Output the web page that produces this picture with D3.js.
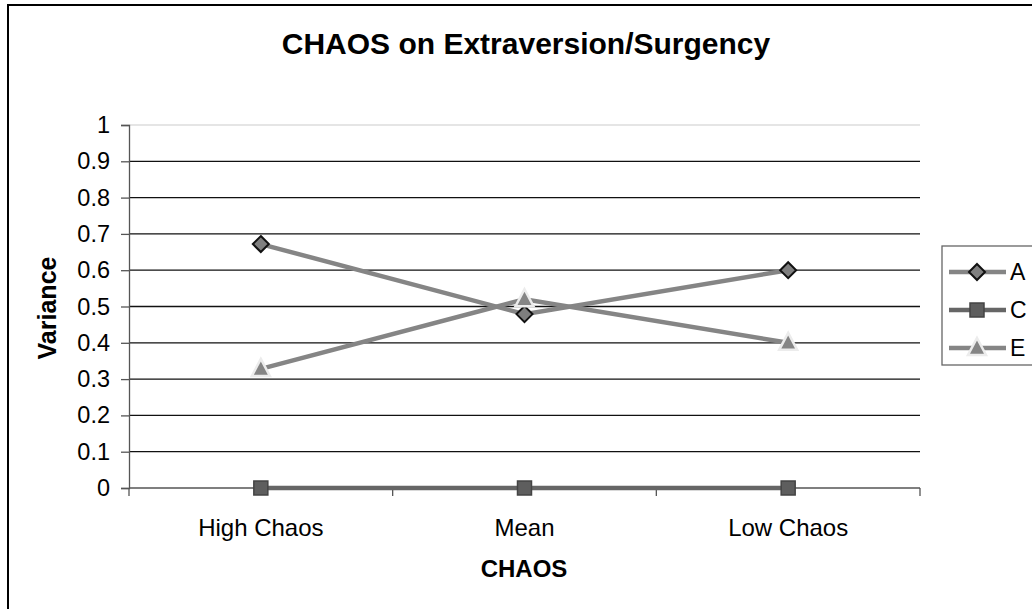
<!DOCTYPE html>
<html>
<head>
<meta charset="utf-8">
<script src="https://cdn.jsdelivr.net/npm/d3@7"></script>
<style>
  html, body { margin: 0; padding: 0; background: #fff; }
  svg { display: block; font-family: "Liberation Sans", Arial, sans-serif; }
</style>
</head>
<body>
<svg id="chart" width="1032" height="609"></svg>
<script>
'use strict';

var categories = ['High Chaos', 'Mean', 'Low Chaos'];
var seriesNames = ['A', 'C', 'E'];
var valuesA = [0.672, 0.479, 0.6];
var valuesC = [0, 0, 0];
var valuesE = [0.328, 0.52, 0.4];
var yTicks = [0, 0.1, 0.2, 0.3, 0.4, 0.5, 0.6, 0.7, 0.8, 0.9, 1];

var svg = d3.select('#chart');
var plot = {left: 129, right: 920, top: 125, bottom: 488};

// outer chart frame (right/bottom edges run off the picture)
svg.append('rect')
  .attr('x', 8).attr('y', 5)
  .attr('width', 1100).attr('height', 700)
  .attr('fill', '#fff')
  .attr('stroke', '#000')
  .attr('stroke-width', 2);

var x = d3.scaleBand().domain(categories).range([plot.left, plot.right]);
var y = d3.scaleLinear().domain([0, 1]).range([plot.bottom, plot.top]);

// gridlines
svg.append('g').selectAll('line')
  .data(yTicks.filter(function(d) { return d > 0; }))
  .join('line')
  .attr('x1', plot.left).attr('x2', plot.right)
  .attr('y1', function(d) { return y(d); })
  .attr('y2', function(d) { return y(d); })
  .attr('stroke', function(d) { return d === 1 ? '#ddd' : '#111'; })
  .attr('stroke-width', 1.3);

// y axis
var yAxis = svg.append('g')
  .attr('transform', 'translate(' + plot.left + ',0)')
  .call(d3.axisLeft(y).tickValues(yTicks).tickSize(8).tickPadding(11)
    .tickFormat(function(d) { return String(d); }));
yAxis.select('.domain').attr('stroke', '#555').attr('stroke-width', 1.3);
yAxis.selectAll('.tick line').attr('stroke', '#555').attr('stroke-width', 1.3);
yAxis.selectAll('text').attr('font-size', 23.5).attr('fill', '#000')
  .attr('font-family', '"Liberation Sans", Arial, sans-serif');

// x axis with ticks on the category boundaries
var xAxisG = svg.append('g');
xAxisG.append('line')
  .attr('x1', plot.left).attr('x2', plot.right)
  .attr('y1', y(0)).attr('y2', y(0))
  .attr('stroke', '#555').attr('stroke-width', 1.3);
var bounds = categories.map(function(c) { return x(c); }).concat([plot.right]);
xAxisG.selectAll('line.tk')
  .data(bounds)
  .join('line')
  .attr('class', 'tk')
  .attr('x1', function(d) { return d; }).attr('x2', function(d) { return d; })
  .attr('y1', y(0)).attr('y2', y(0) + 8)
  .attr('stroke', '#555').attr('stroke-width', 1.3);
xAxisG.selectAll('text')
  .data(categories)
  .join('text')
  .attr('x', function(d) { return x(d) + x.bandwidth() / 2; })
  .attr('y', 536)
  .attr('text-anchor', 'middle')
  .attr('font-size', 24)
  .text(function(d) { return d; });

// titles
svg.append('text')
  .attr('x', 526).attr('y', 54)
  .attr('text-anchor', 'middle')
  .attr('font-size', 30).attr('font-weight', 'bold')
  .text('CHAOS on Extraversion/Surgency');
svg.append('text')
  .attr('x', 524).attr('y', 577)
  .attr('text-anchor', 'middle')
  .attr('font-size', 24).attr('font-weight', 'bold')
  .text('CHAOS');
svg.append('text')
  .attr('transform', 'translate(56,308) rotate(-90)')
  .attr('text-anchor', 'middle')
  .attr('font-size', 25).attr('font-weight', 'bold')
  .text('Variance');

var series = [
  {name: 'A', values: valuesA, line: '#858585', marker: 'diamond'},
  {name: 'C', values: valuesC, line: '#666', marker: 'square'},
  {name: 'E', values: valuesE, line: '#858585', marker: 'triangle'}
];

function drawMarker(g, type, cx, cy) {
  if (type === 'diamond') {
    g.append('path')
      .attr('d', 'M' + cx + ',' + (cy - 8) + 'L' + (cx + 8) + ',' + cy + 'L' + cx + ',' + (cy + 8) + 'L' + (cx - 8) + ',' + cy + 'Z')
      .attr('fill', '#7f7f7f').attr('stroke', '#111').attr('stroke-width', 2);
  } else if (type === 'square') {
    g.append('rect')
      .attr('x', cx - 7).attr('y', cy - 7).attr('width', 14).attr('height', 14)
      .attr('fill', '#5e5e5e').attr('stroke', '#444').attr('stroke-width', 1.5);
  } else {
    g.append('path')
      .attr('d', 'M' + cx + ',' + (cy - 10) + 'L' + (cx + 9) + ',' + (cy + 7) + 'L' + (cx - 9) + ',' + (cy + 7) + 'Z')
      .attr('fill', '#858585').attr('stroke', '#ececec').attr('stroke-width', 2.5);
  }
}

var line = d3.line()
  .x(function(d, i) { return x(categories[i]) + x.bandwidth() / 2; })
  .y(function(d) { return y(d); });

var linesG = svg.append('g');
series.forEach(function(s) {
  linesG.append('path')
    .attr('d', line(s.values))
    .attr('fill', 'none')
    .attr('stroke', s.line)
    .attr('stroke-width', 4.5);
});
series.forEach(function(s) {
  s.values.forEach(function(v, i) {
    drawMarker(linesG, s.marker, x(categories[i]) + x.bandwidth() / 2, y(v));
  });
});

// legend
var legend = svg.append('g');
legend.append('rect')
  .attr('x', 942).attr('y', 246)
  .attr('width', 120).attr('height', 119)
  .attr('fill', '#fff').attr('stroke', '#666').attr('stroke-width', 1.3);
var legendY = d3.scalePoint().domain(seriesNames).range([272, 348]);
series.forEach(function(s) {
  var ly = legendY(s.name);
  legend.append('line')
    .attr('x1', 949).attr('x2', 1006)
    .attr('y1', ly).attr('y2', ly)
    .attr('stroke', s.line).attr('stroke-width', 4.5);
  drawMarker(legend, s.marker, 977, ly);
  legend.append('text')
    .attr('x', 1010).attr('y', ly + 8)
    .attr('font-size', 23)
    .text(s.name);
});
</script>
</body>
</html>
